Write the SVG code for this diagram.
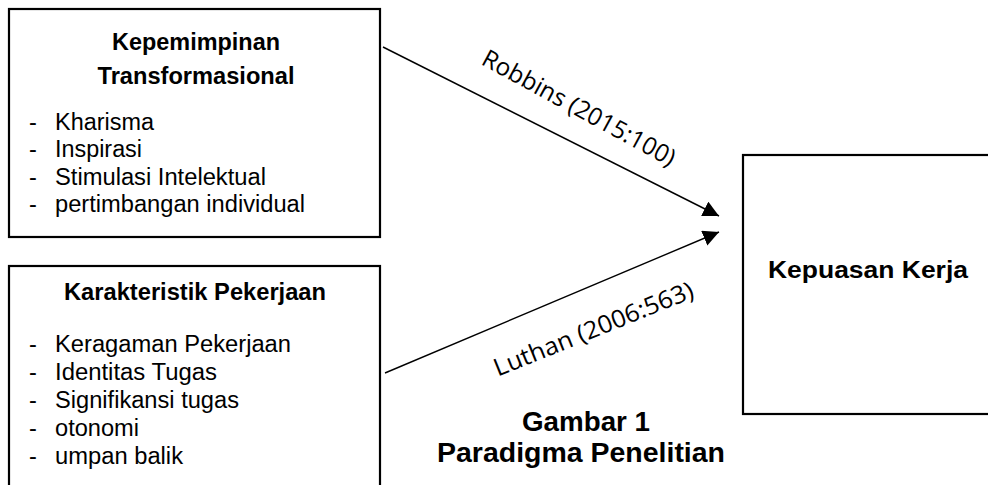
<svg xmlns="http://www.w3.org/2000/svg" width="988" height="485" viewBox="0 0 988 485">
<style>
.box{fill:#fff;stroke:#000;stroke-width:2.2}
.t{font-family:"Liberation Sans",Arial,sans-serif;font-size:23.5px;fill:#000}
.b{font-weight:bold}
.lbl{font-family:"Open Sans","Noto Sans",sans-serif;font-size:24.5px;fill:#000}
.cap{font-family:"Liberation Sans",Arial,sans-serif;font-size:27.5px;font-weight:bold;fill:#000}
.con{stroke:#000;stroke-width:1.4;fill:none}
</style>
<defs>
<marker id="ah" markerUnits="userSpaceOnUse" markerWidth="20" markerHeight="20" refX="16" refY="8" orient="auto">
<path d="M0,0 L16,8 L0,16 Z" fill="#000"/>
</marker>
</defs>
<rect width="988" height="485" fill="#fff"/>
<g id="connectors">
<line class="con" x1="383" y1="47" x2="719" y2="216" marker-end="url(#ah)"/>
<line class="con" x1="385" y1="373" x2="719" y2="232" marker-end="url(#ah)"/>
<text class="lbl" transform="translate(575,115.4) rotate(28.5)" text-anchor="middle" textLength="216" lengthAdjust="spacingAndGlyphs">Robbins (2015:100)</text>
<text class="lbl" transform="translate(596.6,336.8) rotate(-22)" text-anchor="middle" textLength="213" lengthAdjust="spacingAndGlyphs">Luthan (2006:563)</text>
</g>
<g id="node-kepemimpinan">
<rect class="box" x="9" y="9" width="371" height="228"/>
<text class="t b" x="196" y="49.5" text-anchor="middle" textLength="168" lengthAdjust="spacingAndGlyphs">Kepemimpinan</text>
<text class="t b" x="196" y="84" text-anchor="middle" textLength="197" lengthAdjust="spacingAndGlyphs">Transformasional</text>
<text class="t" x="29" y="130">-</text>
<text class="t" x="55" y="130" textLength="99" lengthAdjust="spacingAndGlyphs">Kharisma</text>
<text class="t" x="29" y="157">-</text>
<text class="t" x="55" y="157" textLength="87" lengthAdjust="spacingAndGlyphs">Inspirasi</text>
<text class="t" x="29" y="185">-</text>
<text class="t" x="55" y="185" textLength="211" lengthAdjust="spacingAndGlyphs">Stimulasi Intelektual</text>
<text class="t" x="29" y="212">-</text>
<text class="t" x="55" y="212" textLength="250" lengthAdjust="spacingAndGlyphs">pertimbangan individual</text>
</g>
<g id="node-karakteristik">
<rect class="box" x="9" y="266" width="371" height="240"/>
<text class="t b" x="195" y="300" text-anchor="middle" textLength="262" lengthAdjust="spacingAndGlyphs">Karakteristik Pekerjaan</text>
<text class="t" x="29" y="352">-</text>
<text class="t" x="55" y="352" textLength="236" lengthAdjust="spacingAndGlyphs">Keragaman Pekerjaan</text>
<text class="t" x="29" y="380">-</text>
<text class="t" x="55" y="380" textLength="162" lengthAdjust="spacingAndGlyphs">Identitas Tugas</text>
<text class="t" x="29" y="408">-</text>
<text class="t" x="55" y="408" textLength="184" lengthAdjust="spacingAndGlyphs">Signifikansi tugas</text>
<text class="t" x="29" y="436">-</text>
<text class="t" x="55" y="436" textLength="84" lengthAdjust="spacingAndGlyphs">otonomi</text>
<text class="t" x="29" y="464">-</text>
<text class="t" x="55" y="464" textLength="128" lengthAdjust="spacingAndGlyphs">umpan balik</text>
</g>
<g id="node-kepuasan">
<rect class="box" x="743" y="155" width="260" height="259"/>
<text class="t b" x="768" y="278" textLength="200" lengthAdjust="spacingAndGlyphs">Kepuasan Kerja</text>
</g>
<g id="caption">
<text class="cap" x="586" y="431" text-anchor="middle" textLength="128" lengthAdjust="spacingAndGlyphs">Gambar 1</text>
<text class="cap" x="581" y="462" text-anchor="middle" textLength="288" lengthAdjust="spacingAndGlyphs">Paradigma Penelitian</text>
</g>
</svg>
